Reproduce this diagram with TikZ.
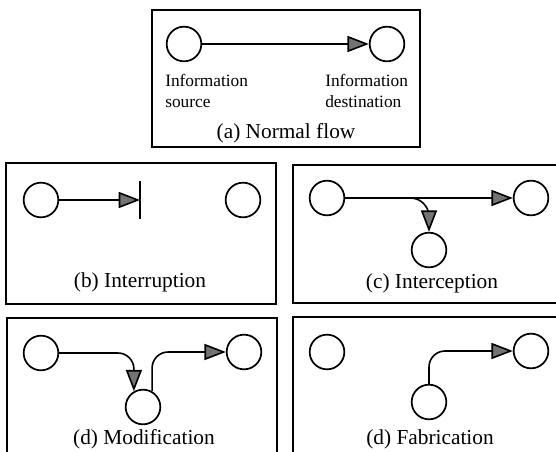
\documentclass[tikz,border=0pt]{standalone}
\usepackage{fontspec}
\setmainfont{Liberation Serif}
\usetikzlibrary{arrows.meta}

\begin{document}
\begin{tikzpicture}[x=0.75pt, y=-0.75pt,
  panel/.style={line width=1.4pt},
  site/.style={circle, draw, line width=1.3pt, minimum size=26pt, inner sep=0pt},
  flow/.style={line width=1.2pt, -{Triangle[length=16pt, width=12pt, fill=black!55]}},
  caption/.style={font=\fontsize{16}{19}\selectfont},
  tag/.style={font=\fontsize{13}{16}\selectfont, align=left, anchor=north west, inner sep=0pt}]
  \useasboundingbox (0,0) rectangle (556,452);
  \clip (0,0) rectangle (556,452);

  % (a) normal flow
  \draw[panel] (152,10) rectangle (420,147);
  \node[site] (src) at (184,44) {};
  \node[site] (dst) at (387,44) {};
  \draw[flow] (src) -- (dst);
  \node[tag] (srclbl) at (165,74) {Information\\source};
  \node[tag] (dstlbl) at (325,74) {Information\\destination};
  \node[caption] (capa) at (286,133) {(a) Normal flow};

  % (b) interruption
  \draw[panel] (6,163) rectangle (276,304);
  \node[site] (bsrc) at (41,200) {};
  \node[site] (bdst) at (243,200) {};
  \coordinate (cut) at (140,200);
  \draw[flow] (bsrc) -- (cut);
  \draw[line width=1.6pt] (cut) ++(0,-19) -- ++(0,38);
  \node[caption] (capb) at (140,282) {(b) Interruption};

  % (c) interception
  \draw[panel] (293,165) rectangle (560,303);
  \node[site] (csrc) at (327,198) {};
  \node[site] (cdst) at (531,198) {};
  \node[site] (cspy) at (429,250) {};
  \coordinate (tap) at (400,198);
  \draw[flow] (csrc) -- (cdst);
  \draw[flow, rounded corners=14pt] (tap) -| (cspy);
  \node[caption] (capc) at (432,283) {(c) Interception};

  % (d) modification
  \draw[panel] (7,318) rectangle (277,470);
  \node[site] (msrc) at (41,353) {};
  \node[site] (mdst) at (244,352) {};
  \node[site] (mmid) at (143,407) {};
  \draw[flow, rounded corners=12pt] (msrc) -| (mmid.120);
  \draw[flow, rounded corners=12pt] (mmid.60) |- (mdst);
  \node[caption] (capd) at (144,439) {(d) Modification};

  % (d) fabrication
  \draw[panel] (293,317) rectangle (560,470);
  \node[site] (fsrc) at (327,352) {};
  \node[site] (fdst) at (531,351) {};
  \node[site] (fake) at (429,402) {};
  \draw[flow, rounded corners=12pt] (fake) |- (fdst);
  \node[caption] (cape) at (430,439) {(d) Fabrication};
\end{tikzpicture}
\end{document}
